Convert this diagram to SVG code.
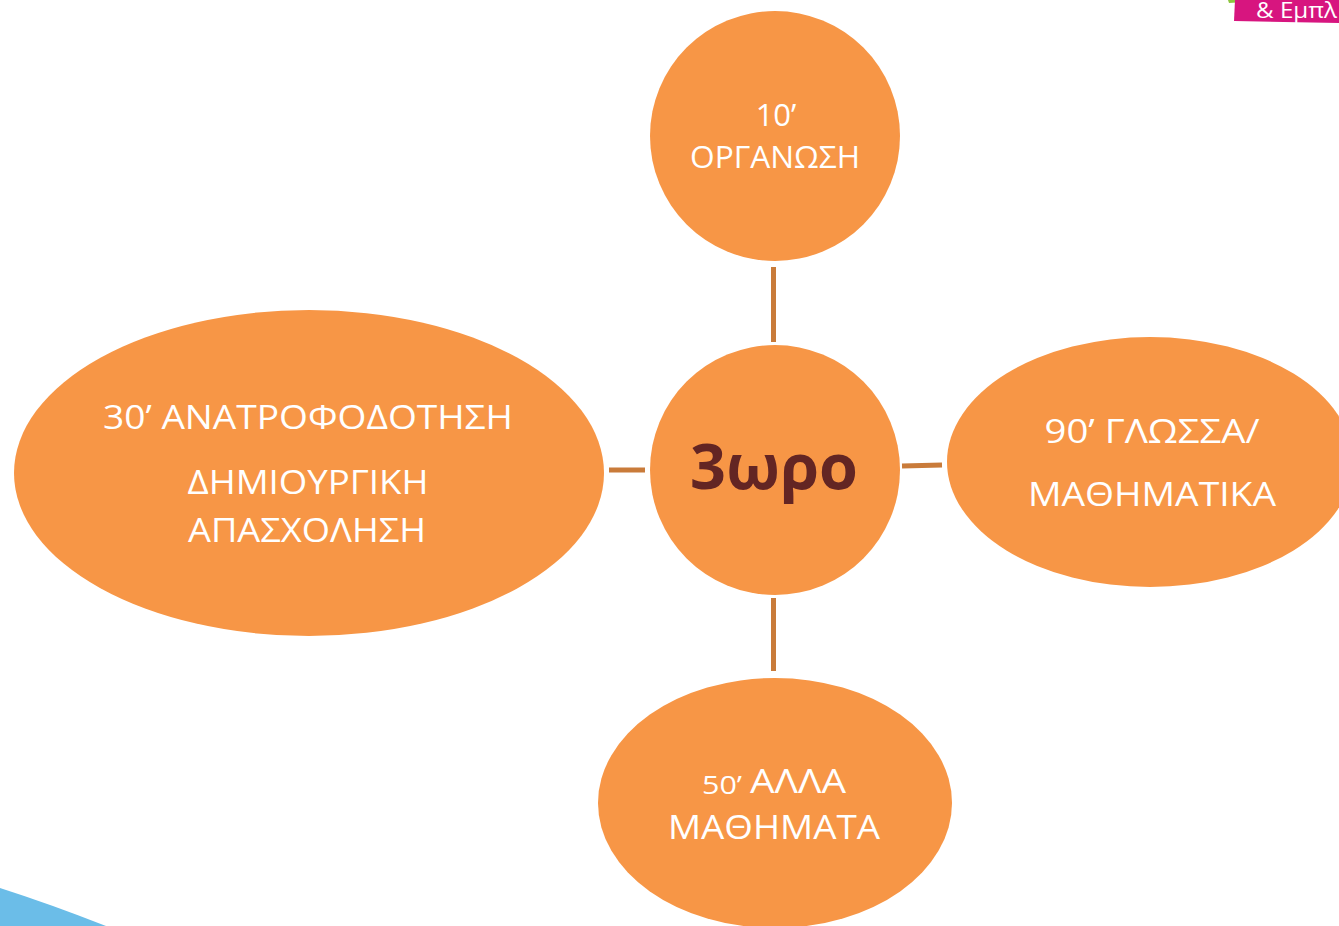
<svg xmlns="http://www.w3.org/2000/svg" width="1339" height="926" viewBox="0 0 1339 926">
<style>
.node{fill:#f79646}
.lbl{font-family:"Open Sans","Noto Sans",sans-serif;fill:#ffffff;text-anchor:middle}
.conn line{stroke:#c97b3a;stroke-width:5}
</style>
<rect width="1339" height="926" fill="#ffffff"/>
<path d="M0,888 Q50,904 106,926 L0,926 Z" fill="#6bbde8"/>
<path d="M1228,0 L1246,0 L1245,2 L1229,3 Z" fill="#8dc63f"/>
<path d="M1235,0 L1339,0 L1339,23 L1234,21 Z" fill="#d7157f"/>
<text x="1256" y="18" font-family="Open Sans, sans-serif" font-size="22" fill="#ffffff" textLength="81" lengthAdjust="spacingAndGlyphs">&amp; Εμπλ</text>
<g class="conn" id="connectors">
<line x1="773.5" y1="267" x2="773.5" y2="342"/>
<line x1="773.5" y1="598" x2="773.5" y2="671"/>
<line x1="609" y1="470" x2="645" y2="470"/>
<line x1="902" y1="466" x2="942" y2="465"/>
</g>
<g id="n-top">
<circle class="node" cx="775" cy="136" r="125"/>
<text class="lbl" x="776" y="126" font-size="31">10’</text>
<text class="lbl" x="775" y="168" font-size="31" textLength="170" lengthAdjust="spacingAndGlyphs">ΟΡΓΑΝΩΣΗ</text>
</g>
<g id="n-center">
<circle class="node" cx="775" cy="470" r="125"/>
<text x="774" y="489" font-family="Open Sans, sans-serif" font-weight="bold" font-size="62" fill="#632523" text-anchor="middle" textLength="168" lengthAdjust="spacingAndGlyphs">3ωρο</text>
</g>
<g id="n-left">
<ellipse class="node" cx="309" cy="473" rx="295" ry="163"/>
<text class="lbl" x="308" y="429" font-size="33" textLength="410" lengthAdjust="spacingAndGlyphs">30’ ΑΝΑΤΡΟΦΟΔΟΤΗΣΗ</text>
<text class="lbl" x="308" y="494" font-size="33" textLength="241" lengthAdjust="spacingAndGlyphs">ΔΗΜΙΟΥΡΓΙΚΗ</text>
<text class="lbl" x="307" y="542" font-size="33" textLength="238" lengthAdjust="spacingAndGlyphs">ΑΠΑΣΧΟΛΗΣΗ</text>
</g>
<g id="n-right">
<ellipse class="node" cx="1150" cy="462" rx="203" ry="125"/>
<text class="lbl" x="1152" y="443" font-size="33" textLength="215" lengthAdjust="spacingAndGlyphs">90’ ΓΛΩΣΣΑ/</text>
<text class="lbl" x="1152" y="506" font-size="33" textLength="248" lengthAdjust="spacingAndGlyphs">ΜΑΘΗΜΑΤΙΚΑ</text>
</g>
<g id="n-bottom">
<ellipse class="node" cx="775" cy="803" rx="177" ry="125"/>
<text x="702" y="794" font-family="Open Sans, sans-serif" font-size="25" fill="#ffffff" textLength="40" lengthAdjust="spacingAndGlyphs">50’</text>
<text x="750" y="793" font-family="Open Sans, sans-serif" font-size="33" fill="#ffffff" textLength="96" lengthAdjust="spacingAndGlyphs">ΑΛΛΑ</text>
<text class="lbl" x="774" y="839" font-size="33" textLength="212" lengthAdjust="spacingAndGlyphs">ΜΑΘΗΜΑΤΑ</text>
</g>
</svg>
